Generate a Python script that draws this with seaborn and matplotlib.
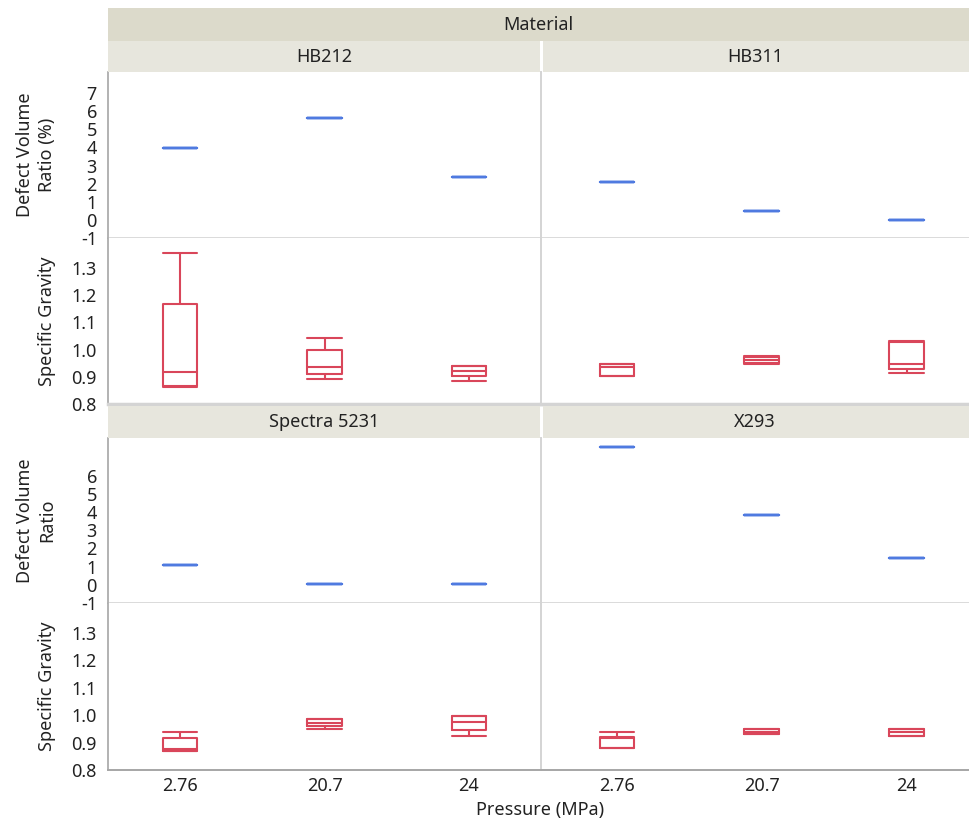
import numpy as np
import pandas as pd
import matplotlib
matplotlib.use("Agg")
import matplotlib.pyplot as plt
import seaborn as sns
from matplotlib.patches import Rectangle

# ---------------- data ----------------
materials = ["HB212", "HB311", "Spectra 5231", "X293"]
pressures = ["2.76", "20.7", "24"]

# Defect Volume Ratio (one value per pressure), per material
defect_hb212 = [3.95, 5.65, 2.36]
defect_hb311 = [2.08, 0.50, 0.02]
defect_spectra = [1.10, 0.05, 0.05]
defect_x293 = [7.58, 3.81, 1.47]

# Specific Gravity five-number summaries, order: material x pressure
sg_min = [0.862, 0.892, 0.885,   0.903, 0.947, 0.915,   0.869, 0.951, 0.925,   0.880, 0.930, 0.925]
sg_q1 = [0.866, 0.910, 0.903,   0.903, 0.950, 0.929,   0.870, 0.962, 0.945,   0.880, 0.932, 0.925]
sg_median = [0.918, 0.936, 0.921,   0.936, 0.962, 0.948,   0.878, 0.971, 0.974,   0.918, 0.940, 0.938]
sg_q3 = [1.168, 0.999, 0.940,   0.947, 0.972, 1.027,   0.918, 0.987, 0.997,   0.921, 0.948, 0.950]
sg_max = [1.355, 1.043, 0.940,   0.947, 0.975, 1.030,   0.938, 0.987, 0.997,   0.938, 0.950, 0.950]

defect_values = [defect_hb212, defect_hb311, defect_spectra, defect_x293]

# ---------------- tables ----------------
rows = []
for m, vals in zip(materials, defect_values):
    for p, v in zip(pressures, vals):
        rows.append({"Material": m, "Pressure": p, "Defect": v})
df_def = pd.DataFrame(rows)

rows = []
i = 0
for m in materials:
    for p in pressures:
        for v in (sg_min[i], sg_q1[i], sg_median[i], sg_q3[i], sg_max[i]):
            rows.append({"Material": m, "Pressure": p, "SG": v})
        i += 1
df_sg = pd.DataFrame(rows)

# ---------------- style ----------------
sns.set_theme(style="white")
plt.rcParams["font.family"] = ["Noto Sans", "DejaVu Sans"]
TXT = "#222222"
GRID = "#d4d4d4"
AXC = "#a6a6a6"
RED = "#d9465a"
BLUE = "#4f7ae0"
FS = 13

W, H = 969, 822
fig = plt.figure(figsize=(W / 100, H / 100), dpi=100)
fig.patch.set_facecolor("white")


def fx(px):
    return px / W


def fy(py):
    return 1 - py / H


def add_ax(x0, x1, y0, y1):
    return fig.add_axes([fx(x0), fy(y1), fx(x1) - fx(x0), (y1 - y0) / H])


col_x = [(108, 541), (541, 969)]
row_y = {0: [(72, 238), (238, 404)], 1: [(438, 603), (603, 770)]}
xlims_col = [(-0.5, 2.5), (-0.524, 2.43)]

for idx, m in enumerate(materials):
    r, c = divmod(idx, 2)
    x0, x1 = col_x[c]
    (dy0, dy1), (sy0, sy1) = row_y[r]
    ax_d = add_ax(x0, x1, dy0, dy1)
    ax_s = add_ax(x0, x1, sy0, sy1)

    sub_d = df_def[df_def["Material"] == m]
    sns.boxplot(data=sub_d, x="Pressure", y="Defect", order=pressures, ax=ax_d,
                width=0.24, whis=(0, 100), fill=False, color=BLUE, linewidth=1.6,
                showfliers=False, capwidths=0.24)
    sub_s = df_sg[df_sg["Material"] == m]
    sns.boxplot(data=sub_s, x="Pressure", y="SG", order=pressures, ax=ax_s,
                width=0.24, whis=(0, 100), fill=False, color=RED, linewidth=1.5,
                showfliers=False, capwidths=0.24)

    ax_d.set_xlim(*xlims_col[c])
    ax_s.set_xlim(*xlims_col[c])

    ax_d.set_ylim(-1, 8.17 if r == 0 else 8.07)
    ax_s.set_ylim(0.8, 1.41)

    for ax in (ax_d, ax_s):
        ax.set_facecolor("white")
        ax.set_xlabel("")
        ax.set_ylabel("")
        for s in ax.spines.values():
            s.set_visible(False)
        ax.tick_params(axis="x", length=0, labelbottom=False)

    # separators
    ax_d.spines["bottom"].set_visible(True)
    ax_d.spines["bottom"].set_color(GRID)
    ax_d.spines["bottom"].set_linewidth(1.2)

    if c == 0:
        for ax in (ax_d, ax_s):
            ax.spines["left"].set_visible(True)
            ax.spines["left"].set_color(AXC)
            ax.spines["left"].set_linewidth(1.2)
            ax.tick_params(axis="y", length=6, width=1, color=AXC, pad=2,
                           labelsize=FS, labelcolor=TXT)
        ax_d.set_yticks(range(-1, 8))
        if r == 0:
            ax_d.set_yticklabels([str(t) for t in range(-1, 8)])
        else:
            ax_d.set_yticklabels([str(t) for t in range(-1, 7)] + [""])
        ax_s.set_yticks([0.8, 0.9, 1.0, 1.1, 1.2, 1.3])
        ax_s.set_yticklabels(["0.8", "0.9", "1.0", "1.1", "1.2", "1.3"])
        ax_d.set_ylabel("Defect Volume\nRatio (%)" if r == 0 else "Defect Volume\nRatio",
                        fontsize=FS, color=TXT, linespacing=1.25)
        ax_d.yaxis.set_label_coords((56 - 108) / 433, 0.5)
        ax_s.set_ylabel("Specific Gravity", fontsize=FS, color=TXT)
        ax_s.yaxis.set_label_coords((56 - 108) / 433, 0.5)
    else:
        for ax in (ax_d, ax_s):
            ax.spines["left"].set_visible(True)
            ax.spines["left"].set_color(GRID)
            ax.spines["left"].set_linewidth(1.4)
            ax.tick_params(axis="y", length=0, labelleft=False)

    if r == 0:
        ax_s.spines["bottom"].set_visible(True)
        ax_s.spines["bottom"].set_color(GRID)
        ax_s.spines["bottom"].set_linewidth(2.5)
    else:
        ax_s.spines["bottom"].set_visible(True)
        ax_s.spines["bottom"].set_color(AXC)
        ax_s.spines["bottom"].set_linewidth(1.4)
        ax_s.tick_params(axis="x", labelbottom=True, labelsize=FS, labelcolor=TXT, pad=5)

    # facet header
    hy0, hy1 = (41, 72) if r == 0 else (406, 438)
    hx0 = x0 + (2 if c == 1 else 0)
    hx1 = x1 - (1 if c == 0 else 0)
    fig.patches.append(Rectangle((fx(hx0), fy(hy1)), fx(hx1) - fx(hx0),
                                 (hy1 - hy0) / H, transform=fig.transFigure,
                                 facecolor="#e7e6dd", edgecolor="none", zorder=0))
    fig.text((fx(x0) + fx(x1)) / 2, fy((hy0 + hy1) / 2), m, ha="center", va="center",
             fontsize=FS, color=TXT)

# top "Material" header
fig.patches.append(Rectangle((fx(108), fy(41)), fx(969) - fx(108), 33 / H,
                             transform=fig.transFigure, facecolor="#dcdacb",
                             edgecolor="none", zorder=0))
fig.text((fx(108) + fx(969)) / 2, fy(24.5), "Material", ha="center", va="center",
         fontsize=FS, fontweight="bold", color=TXT)

fig.text(fx(540), fy(810), "Pressure (MPa)", ha="center", va="center",
         fontsize=FS, color=TXT)

fig.savefig("out.png", dpi=100)
